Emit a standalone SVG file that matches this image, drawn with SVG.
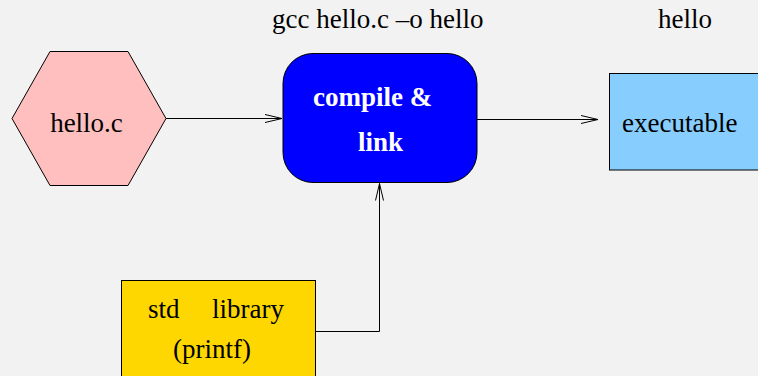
<svg xmlns="http://www.w3.org/2000/svg" width="758" height="376" viewBox="0 0 758 376">
  <defs>
    <marker id="open" viewBox="0 0 18 10" refX="17" refY="5" markerWidth="18" markerHeight="10" markerUnits="userSpaceOnUse" orient="auto">
      <path d="M0,1 L17,5 L0,9" fill="none" stroke="#000" stroke-width="1"/>
    </marker>
  </defs>
  <style>
    text { font-family: "Liberation Serif", "Times New Roman", serif; font-size: 27px; fill: #000; }
    .bold { font-weight: bold; fill: #fff; }
    .shape { stroke: #000; stroke-width: 1; }
    .conn { fill: none; stroke: #000; stroke-width: 1; }
  </style>
  <rect width="758" height="376" fill="#F2F2F2"/>

  <g id="labels">
    <text x="272" y="28">gcc hello.c –o hello</text>
    <text x="658" y="28">hello</text>
  </g>

  <g id="connectors">
    <path class="conn" d="M166,118.5 H282" marker-end="url(#open)"/>
    <path class="conn" d="M477,119.5 H598" marker-end="url(#open)"/>
    <path class="conn" d="M316,331.5 H379.5 V183.5" marker-end="url(#open)"/>
  </g>

  <g id="hello_c">
    <polygon class="shape" points="12,118.5 50,51.5 128,51.5 166,118.5 128,185.5 50,185.5" fill="#FFBFBF"/>
    <text x="86.5" y="132" text-anchor="middle">hello.c</text>
  </g>

  <g id="compile">
    <rect class="shape" x="283" y="53.5" width="194" height="129" rx="30" ry="30" fill="#0000FF"/>
    <text class="bold" x="313" y="106">compile &amp;</text>
    <text class="bold" x="358" y="151">link</text>
  </g>

  <g id="executable">
    <rect class="shape" x="609.5" y="73.5" width="160" height="96.5" fill="#87CEFF"/>
    <text x="622" y="132">executable</text>
  </g>

  <g id="stdlib">
    <rect class="shape" x="121.5" y="280.5" width="194" height="110" fill="#FFD700"/>
    <text x="148" y="318">std</text>
    <text x="212" y="318">library</text>
    <text x="173" y="358">(printf)</text>
  </g>
</svg>
